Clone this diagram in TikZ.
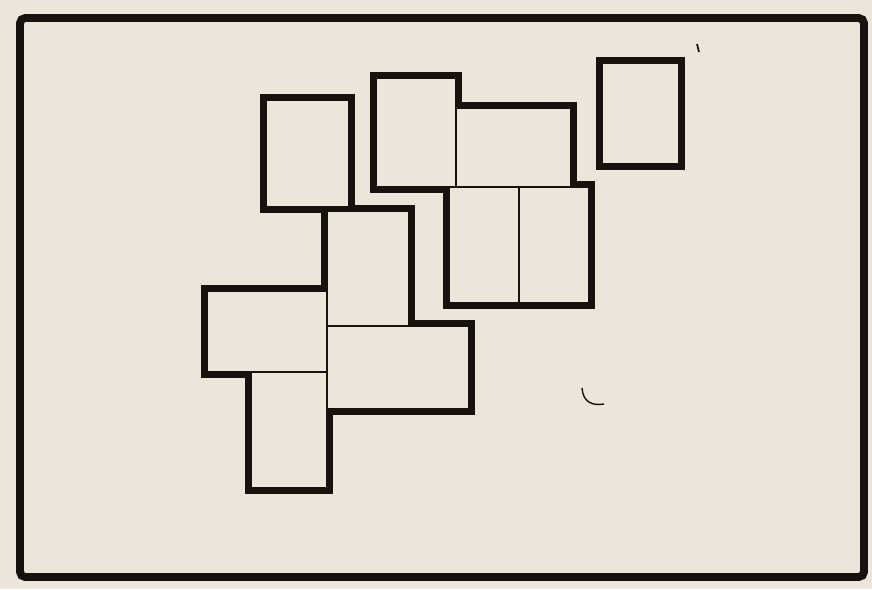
\documentclass[tikz,border=0pt]{standalone}
\usetikzlibrary{fit}
\definecolor{paper}{RGB}{238,229,218}
\definecolor{ink}{RGB}{24,18,14}
\tikzset{
  room/.style={inner sep=0pt, outer sep=0pt},
  wallout/.style={draw=ink, line width=7pt, line join=miter},
  wallfill/.style={fill=paper},
  wallin/.style={draw=ink, line width=1.1pt},
  sheetframe/.style={draw=ink, line width=4.5pt, rounded corners=3pt}
}
\begin{document}
\begin{tikzpicture}[x=0.02cm, y=-0.02cm]
\fill[paper] (0,0) rectangle (872,589);
\useasboundingbox (0,0) rectangle (872,589);
% sheet border
\node[room, fit={(20,18)(864,577)}] (sheet) {};
\draw[sheetframe] (sheet.north west) rectangle (sheet.south east);
% rooms
\node[room, fit={(266,100)(349,207)}] (A) {};
\node[room, fit={(376,78)(456,187)}] (B) {};
\node[room, fit={(456,108)(571,187)}] (C) {};
\node[room, fit={(449,187)(589,303)}] (D) {};
\node[room, fit={(602,63)(679,164)}] (E) {};
\node[room, fit={(327,211)(409,326)}] (F) {};
\node[room, fit={(207,291)(327,372)}] (G) {};
\node[room, fit={(327,326)(469,409)}] (H) {};
\node[room, fit={(251,372)(327,488)}] (I) {};
% thick outline, then cover the shared walls, then thin walls
\foreach \r in {A,B,C,D,E,F,G,H,I}
  \draw[wallout] (\r.north west) rectangle (\r.south east);
\foreach \r in {A,B,C,D,E,F,G,H,I}
  \fill[wallfill] (\r.north west) rectangle (\r.south east);
\foreach \r in {A,B,C,D,E,F,G,H,I}
  \draw[wallin] (\r.north west) rectangle (\r.south east);
\draw[wallin] (D.north) -- (D.south);
% stray marks
\draw[ink, line width=0.8pt] (582,388) .. controls (583,402) and (592,406) .. (604,404);
\draw[ink, line width=1pt] (697,44) -- (699,52);
\end{tikzpicture}
\end{document}
